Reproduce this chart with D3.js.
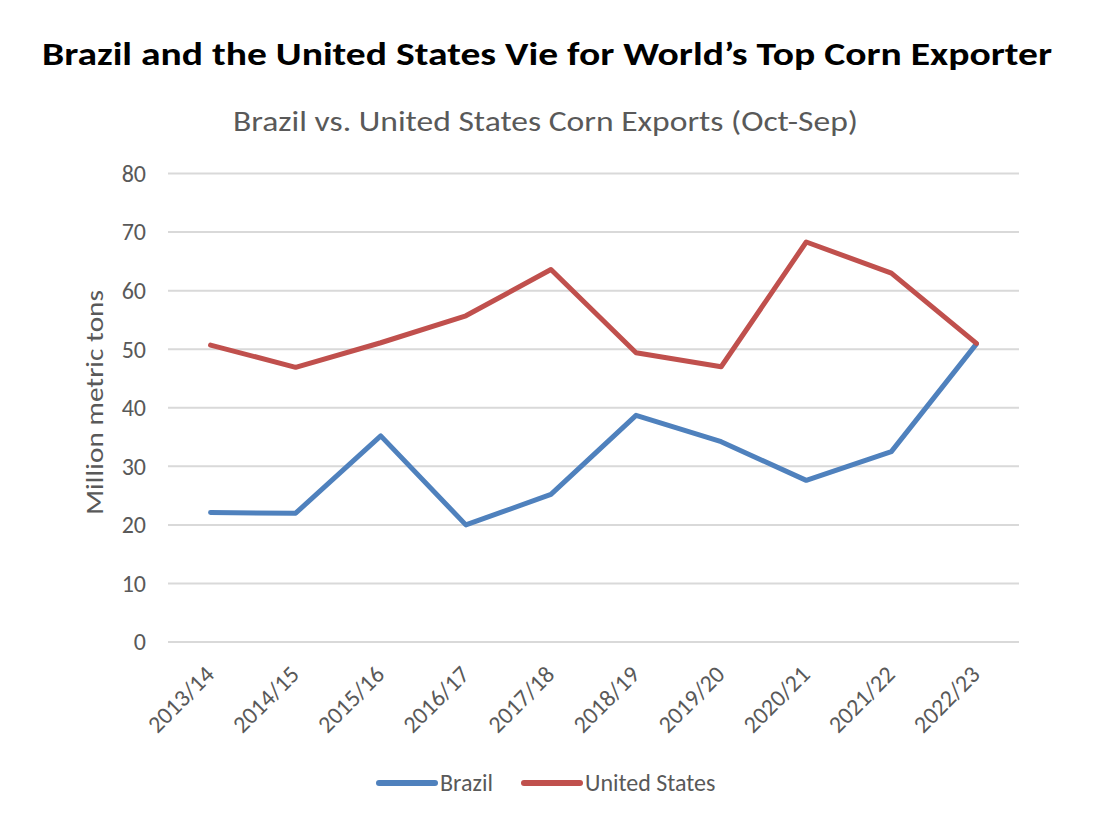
<!DOCTYPE html>
<html>
<head>
<meta charset="utf-8">
<script src="https://cdn.jsdelivr.net/npm/d3@7"></script>
<style>
  body { margin: 0; background: #fff; }
  #chart { width: 1116px; height: 830px; }
  text { font-family: Carlito, Lato, "Open Sans", sans-serif; }
</style>
</head>
<body>
<div id="chart"></div>
<script>
// data
const seasons = ['2013/14', '2014/15', '2015/16', '2016/17', '2017/18',
                 '2018/19', '2019/20', '2020/21', '2021/22', '2022/23'];
const brazil = [22.1, 22.0, 35.2, 20.0, 25.2, 38.7, 34.2, 27.6, 32.5, 50.9];
const unitedStates = [50.7, 46.9, 51.1, 55.7, 63.6, 49.4, 47.0, 68.3, 63.0, 51.0];
const yTicks = [0, 10, 20, 30, 40, 50, 60, 70, 80];

const seriesNames = ['Brazil', 'United States'];
const seriesColors = ['#4f81bd', '#c0504d'];

const width = 1116, height = 830;
const margin = { top: 173.5, right: 97, bottom: 188, left: 168 };
const innerWidth = width - margin.left - margin.right;
const innerHeight = height - margin.top - margin.bottom;

const svg = d3.select('#chart')
    .append('svg')
    .attr('width', width)
    .attr('height', height);

// titles
svg.append('text')
    .attr('x', 547)
    .attr('y', 65)
    .attr('text-anchor', 'middle')
    .attr('font-size', 32)
    .attr('font-weight', 'bold')
    .attr('fill', '#000')
    .attr('textLength', 1010)
    .attr('lengthAdjust', 'spacingAndGlyphs')
    .text('Brazil and the United States Vie for World\u2019s Top Corn Exporter');

svg.append('text')
    .attr('x', 545.5)
    .attr('y', 131)
    .attr('text-anchor', 'middle')
    .attr('font-size', 29)
    .attr('fill', '#595959')
    .attr('textLength', 625)
    .attr('lengthAdjust', 'spacingAndGlyphs')
    .text('Brazil vs. United States Corn Exports (Oct-Sep)');

const g = svg.append('g')
    .attr('transform', `translate(${margin.left},${margin.top})`);

const xScale = d3.scalePoint()
    .domain(seasons)
    .range([0, innerWidth])
    .padding(0.5);

const yScale = d3.scaleLinear()
    .domain([0, 80])
    .range([innerHeight, 0]);

// gridlines
g.selectAll('.grid')
    .data(yTicks)
    .enter()
    .append('line')
    .attr('class', 'grid')
    .attr('x1', 0)
    .attr('x2', innerWidth)
    .attr('y1', d => yScale(d))
    .attr('y2', d => yScale(d))
    .attr('stroke', '#d9d9d9')
    .attr('stroke-width', 2);

// y tick labels
g.selectAll('.y-label')
    .data(yTicks)
    .enter()
    .append('text')
    .attr('class', 'y-label')
    .attr('x', -22)
    .attr('y', d => yScale(d))
    .attr('dy', '0.35em')
    .attr('text-anchor', 'end')
    .attr('font-size', 24)
    .attr('fill', '#595959')
    .text(d => d);

// x tick labels, rotated
g.selectAll('.x-label')
    .data(seasons)
    .enter()
    .append('text')
    .attr('class', 'x-label')
    .attr('transform', d => `translate(${xScale(d) + 5},${innerHeight + 34}) rotate(-45)`)
    .attr('text-anchor', 'end')
    .attr('font-size', 24)
    .attr('fill', '#595959')
    .text(d => d);

// y axis title
g.append('text')
    .attr('transform', 'rotate(-90)')
    .attr('x', -(402.5 - margin.top))
    .attr('y', 103 - margin.left)
    .attr('text-anchor', 'middle')
    .attr('font-size', 25)
    .attr('fill', '#595959')
    .attr('textLength', 225)
    .attr('lengthAdjust', 'spacingAndGlyphs')
    .text('Million metric tons');

const seriesData = [brazil, unitedStates].map((vals, i) => ({
    name: seriesNames[i],
    color: seriesColors[i],
    values: seasons.map((s, j) => ({ season: s, value: vals[j] }))
}));

const line = d3.line()
    .x(d => xScale(d.season))
    .y(d => yScale(d.value));

g.selectAll('.line-series')
    .data(seriesData)
    .enter()
    .append('path')
    .attr('class', 'line-series')
    .attr('fill', 'none')
    .attr('stroke', d => d.color)
    .attr('stroke-width', 5)
    .attr('stroke-linejoin', 'round')
    .attr('stroke-linecap', 'round')
    .attr('d', d => line(d.values));

// legend
const legendPos = [379, 524];
const legend = svg.append('g').attr('transform', 'translate(0,783)');
const items = legend.selectAll('.legend-item')
    .data(seriesData)
    .enter()
    .append('g')
    .attr('class', 'legend-item')
    .attr('transform', (d, i) => `translate(${legendPos[i]},0)`);
items.append('line')
    .attr('x1', 0).attr('x2', 56)
    .attr('y1', 0).attr('y2', 0)
    .attr('stroke', d => d.color)
    .attr('stroke-width', 6)
    .attr('stroke-linecap', 'round');
items.append('text')
    .attr('x', 61)
    .attr('y', 8)
    .attr('font-size', 24)
    .attr('fill', '#595959')
    .text(d => d.name);
</script>
</body>
</html>
